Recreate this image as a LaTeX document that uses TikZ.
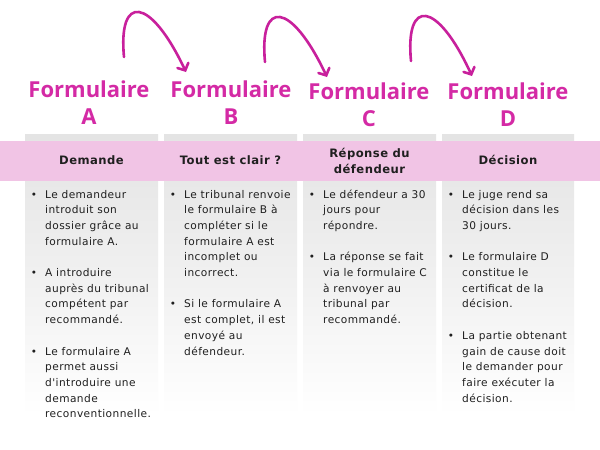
\documentclass[tikz,border=0pt]{standalone}
\usepackage{fontspec}
\usetikzlibrary{arrows.meta}
\newfontfamily\bodyfont[LetterSpace=4]{DejaVu Sans}
\newfontfamily\titlefont{Open Sans}
\definecolor{mag}{HTML}{D42AA5}
\definecolor{arrowmag}{HTML}{C8209C}
\definecolor{bandpink}{HTML}{F1C4E5}
\definecolor{colgray}{HTML}{E4E4E4}
\definecolor{txt}{HTML}{1F1F1F}
\newcommand\tline[4]{\node[body] (#1) at (#2, 198+15.7*#3) {#4};}
\newcommand\bul[3]{\node[bulletdot] (#1) at (#2-11, 198+15.7*#3) {•};}
\begin{document}
\begin{tikzpicture}[x=1pt,y=-1pt,
  body/.style={font=\bodyfont\fontsize{10.6}{12}\selectfont, text=txt, inner sep=0pt, anchor=base west},
  bulletdot/.style={font=\bodyfont\fontsize{10.5}{12}\selectfont, text=txt, inner sep=0pt, anchor=base},
  head/.style={font=\bodyfont\bfseries\fontsize{11.6}{15.5}\selectfont, text=txt, inner sep=0pt, align=center},
  title/.style={font=\titlefont\bfseries\fontsize{22}{26}\selectfont, text=mag, inner sep=0pt, anchor=base},
  colbox/.style={top color=colgray, bottom color=white, middle color=colgray!55!white},
  curl/.style={draw=arrowmag, line width=2.6pt, line cap=round, -{Straight Barb[length=5.5pt,width=12pt,line cap=round]}}]
\useasboundingbox (0,0) rectangle (600,450);
\fill[white] (0,0) rectangle (600,450);
% columns
\shade[colbox] (25,134) rectangle (158,415);
\shade[colbox] (164,134) rectangle (297,415);
\shade[colbox] (303,134) rectangle (436,415);
\shade[colbox] (442,134) rectangle (574,415);
% band
\fill[bandpink] (0,141) rectangle (600,181);
% headers
\node[head, anchor=base] (hA) at (91.5,164) {Demande};
\node[head, anchor=base] (hB) at (230.5,164) {Tout est clair ?};
\node[head] (hC) at (369.5,161) {Réponse du\\défendeur};
\node[head, anchor=base] (hD) at (508,164) {Décision};
% titles
\node[title] (fA) at (89,97) {Formulaire};
\node[title] (lA) at (89,124) {A};
\node[title] (fB) at (231,97) {Formulaire};
\node[title] (lB) at (231,124) {B};
\node[title] (fC) at (369,99) {Formulaire};
\node[title] (lC) at (369,126) {C};
\node[title] (fD) at (508,99) {Formulaire};
\node[title] (lD) at (508,126) {D};
% arrows
\coordinate (s1) at (124,57); \coordinate (e1) at (186,72);
\coordinate (s2) at (265,62); \coordinate (e2) at (327,77);
\coordinate (s3) at (411,61); \coordinate (e3) at (472,76);
\draw[curl] (s1) .. controls (118,-6) and (150,-4) .. (e1);
\draw[curl] (s2) .. controls (259,-1) and (291,1) .. (e2);
\draw[curl] (s3) .. controls (405,-2) and (437,0) .. (e3);
% column 1
\bul{b11}{45}{0}
\tline{a10}{45}{0}{Le demandeur}
\tline{a11}{45}{1}{introduit son}
\tline{a12}{45}{2}{dossier grâce au}
\tline{a13}{45}{3}{formulaire A.}
\bul{b12}{45}{5}
\tline{a15}{45}{5}{A introduire}
\tline{a16}{45}{6}{auprès du tribunal}
\tline{a17}{45}{7}{compétent par}
\tline{a18}{45}{8}{recommandé.}
\bul{b13}{45}{10}
\tline{a110}{45}{10}{Le formulaire A}
\tline{a111}{45}{11}{permet aussi}
\tline{a112}{45}{12}{d'introduire une}
\tline{a113}{45}{13}{demande}
\tline{a114}{45}{14}{reconventionnelle.}
% column 2
\bul{b21}{184}{0}
\tline{a20}{184}{0}{Le tribunal renvoie}
\tline{a21}{184}{1}{le formulaire B à}
\tline{a22}{184}{2}{compléter si le}
\tline{a23}{184}{3}{formulaire A est}
\tline{a24}{184}{4}{incomplet ou}
\tline{a25}{184}{5}{incorrect.}
\bul{b22}{184}{7}
\tline{a27}{184}{7}{Si le formulaire A}
\tline{a28}{184}{8}{est complet, il est}
\tline{a29}{184}{9}{envoyé au}
\tline{a210}{184}{10}{défendeur.}
% column 3
\bul{b31}{323}{0}
\tline{a30}{323}{0}{Le défendeur a 30}
\tline{a31}{323}{1}{jours pour}
\tline{a32}{323}{2}{répondre.}
\bul{b32}{323}{4}
\tline{a34}{323}{4}{La réponse se fait}
\tline{a35}{323}{5}{via le formulaire C}
\tline{a36}{323}{6}{à renvoyer au}
\tline{a37}{323}{7}{tribunal par}
\tline{a38}{323}{8}{recommandé.}
% column 4
\bul{b41}{462}{0}
\tline{a40}{462}{0}{Le juge rend sa}
\tline{a41}{462}{1}{décision dans les}
\tline{a42}{462}{2}{30 jours.}
\bul{b42}{462}{4}
\tline{a44}{462}{4}{Le formulaire D}
\tline{a45}{462}{5}{constitue le}
\tline{a46}{462}{6}{certificat de la}
\tline{a47}{462}{7}{décision.}
\bul{b43}{462}{9}
\tline{a49}{462}{9}{La partie obtenant}
\tline{a410}{462}{10}{gain de cause doit}
\tline{a411}{462}{11}{le demander pour}
\tline{a412}{462}{12}{faire exécuter la}
\tline{a413}{462}{13}{décision.}
\end{tikzpicture}
\end{document}
